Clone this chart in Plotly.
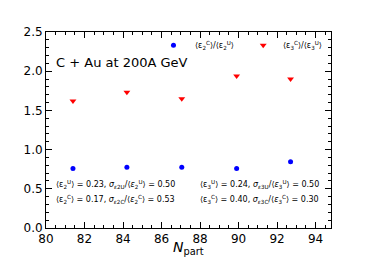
import plotly.graph_objects as go

# données
n_part = [81.4, 84.2, 87.05, 89.9, 92.7]
ratio_eps2 = [0.76, 0.775, 0.775, 0.76, 0.845]
ratio_eps3 = [1.62, 1.73, 1.65, 1.94, 1.90]

leg_x = [86.62, 91.28]
leg_y = [2.33, 2.33]

police = "DejaVu Sans"

fig = go.Figure()
fig.add_trace(go.Scatter(x=n_part, y=ratio_eps2, mode="markers",
                         marker=dict(symbol="circle", size=5, color="#0000ff")))
fig.add_trace(go.Scatter(x=n_part, y=ratio_eps3, mode="markers",
                         marker=dict(symbol="triangle-down", size=6, color="#ff0000")))
# marqueurs de la légende dessinée à la main
fig.add_trace(go.Scatter(x=[leg_x[0]], y=[leg_y[0]], mode="markers",
                         marker=dict(symbol="circle", size=5, color="#0000ff")))
fig.add_trace(go.Scatter(x=[leg_x[1]], y=[leg_y[1]], mode="markers",
                         marker=dict(symbol="triangle-down", size=6, color="#ff0000")))

ax = dict(showline=True, linecolor="black", linewidth=1, mirror="allticks",
          ticks="inside", ticklen=6, tickcolor="black", showgrid=False,
          zeroline=False, tickfont=dict(family=police, size=12, color="black"))

fig.update_xaxes(range=[80, 94.8], dtick=2, tick0=80, ticklabelstandoff=0,
                 minor=dict(dtick=0.5, ticks="inside", ticklen=3, tickcolor="black"),
                 **ax)
fig.update_yaxes(range=[0, 2.5], dtick=0.5, tick0=0, tickformat=".1f",
                 ticklabelstandoff=0,
                 minor=dict(dtick=0.1, ticks="inside", ticklen=3, tickcolor="black"),
                 **ax)

def note(x, y, txt, size=8):
    fig.add_annotation(x=x, y=y, xref="paper", yref="paper", text=txt,
                       showarrow=False, xanchor="left", yanchor="middle",
                       borderpad=0,
                       font=dict(family=police, size=size, color="black"))

note(0.03, 0.842, "C + Au at 200A GeV", 13)
note(0.519, 0.93, "⟨ε<sub>2</sub><sup>C</sup>⟩/⟨ε<sub>2</sub><sup>U</sup>⟩")
note(0.828, 0.93, "⟨ε<sub>3</sub><sup>C</sup>⟩/⟨ε<sub>3</sub><sup>U</sup>⟩")
note(0.03, 0.224, "⟨ε<sub>2</sub><sup>U</sup>⟩ = 0.23, <i>σ</i><sub><i>ε</i>2U</sub>/⟨<i>ε</i><sub>2</sub><sup>U</sup>⟩ = 0.50")
note(0.03, 0.143, "⟨ε<sub>2</sub><sup>C</sup>⟩ = 0.17, <i>σ</i><sub><i>ε</i>2C</sub>/⟨<i>ε</i><sub>2</sub><sup>C</sup>⟩ = 0.53")
note(0.537, 0.224, "⟨ε<sub>3</sub><sup>U</sup>⟩ = 0.24, <i>σ</i><sub><i>ε</i>3U</sub>/⟨<i>ε</i><sub>3</sub><sup>U</sup>⟩ = 0.50")
note(0.537, 0.143, "⟨ε<sub>3</sub><sup>C</sup>⟩ = 0.40, <i>σ</i><sub><i>ε</i>3C</sub>/⟨<i>ε</i><sub>3</sub><sup>C</sup>⟩ = 0.30")

# titre de l'axe x
fig.add_annotation(x=0.5, y=-0.1, xref="paper", yref="paper",
                   text="<i>N</i><sub>part</sub>", showarrow=False,
                   xanchor="center", yanchor="middle",
                   font=dict(family=police, size=14, color="black"))

# la page ajoute 8 px de marge : figure un peu plus petite que la fenêtre
fig.update_layout(width=360, height=252, showlegend=False,
                  margin=dict(l=38, r=37, t=24, b=32),
                  plot_bgcolor="white", paper_bgcolor="white",
                  font=dict(family=police, color="black"))

fig.write_html("out.html")
